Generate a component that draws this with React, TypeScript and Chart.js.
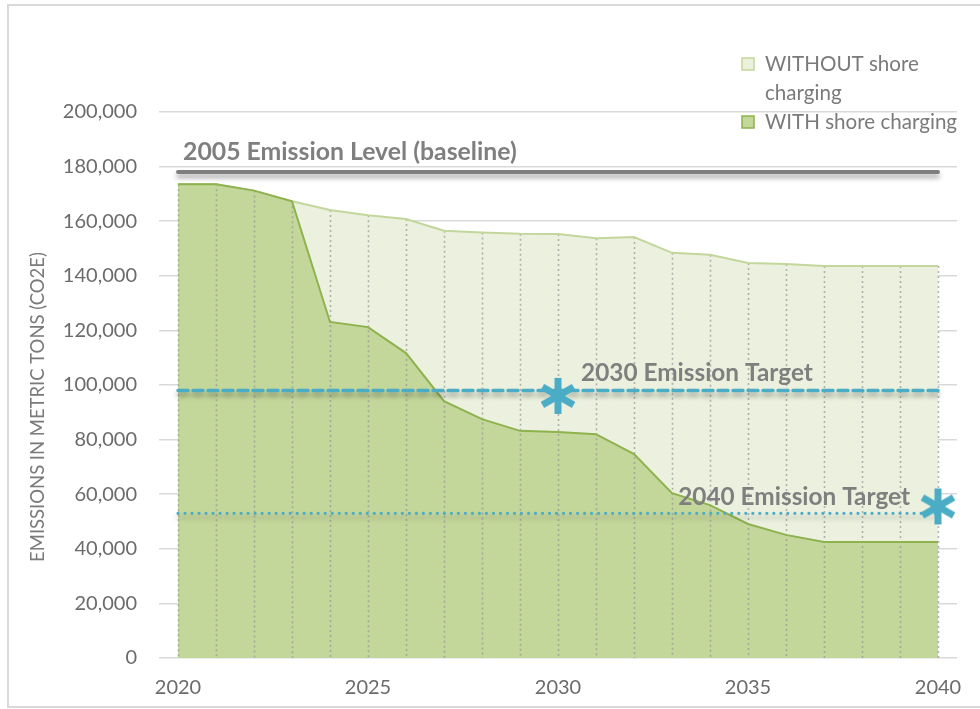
import React, { useEffect, useRef } from "react";
import { Chart, registerables } from "chart.js";
Chart.register(...registerables);

const years = ["2020","2021","2022","2023","2024","2025","2026","2027","2028","2029","2030","2031","2032","2033","2034","2035","2036","2037","2038","2039","2040"];
const xTickLabels = ["2020", "2025", "2030", "2035", "2040"];
const withoutShore = [173500,173500,171200,167300,164100,162200,160800,156500,155900,155400,155300,153800,154200,148400,147700,144700,144300,143600,143600,143600,143600];
const withShore = [173500,173500,171200,167300,123100,121200,111700,94100,87500,83200,82800,82000,74700,60400,56000,49100,45100,42500,42500,42500,42500];
const baseline2005 = 178000;
const target2030 = 98000;
const target2040 = 53000;
const marker2030 = 96000;
const marker2040 = 55500;
const yMax = 200000;
const yStep = 20000;

const FONT = "Lato, 'Open Sans', sans-serif";
const BLUE = "#4bacc6";

function makeAsterisk(size: number, color: string, lw: number) {
  const c = document.createElement("canvas");
  c.width = size; c.height = size;
  const g = c.getContext("2d")!;
  g.strokeStyle = color; g.lineWidth = lw; g.lineCap = "butt";
  const r = size / 2 - 1;
  [90, 30, -30].forEach((a) => {
    const rad = (a * Math.PI) / 180;
    g.beginPath();
    g.moveTo(size / 2 - Math.cos(rad) * r, size / 2 - Math.sin(rad) * r);
    g.lineTo(size / 2 + Math.cos(rad) * r, size / 2 + Math.sin(rad) * r);
    g.stroke();
  });
  return c;
}

function fitSize(ctx: CanvasRenderingContext2D, text: string, weight: string, target: number) {
  ctx.font = `${weight} 100px ${FONT}`;
  const w = ctx.measureText(text).width;
  return (100 * target) / w;
}

export default function App() {
  const ref = useRef<HTMLCanvasElement>(null);
  useEffect(() => {
    const star = makeAsterisk(38, BLUE, 7);
    const refLineIdx = [2, 3, 4];
    const plugin = {
      id: "custom",
      beforeDatasetsDraw(chart: any) {
        const { ctx, scales } = chart;
        const xs = scales.x, ys = scales.y;
        ctx.save();
        ctx.strokeStyle = "rgba(150,150,150,0.7)";
        ctx.lineWidth = 1.6;
        ctx.setLineDash([2, 3]);
        withoutShore.forEach((v, i) => {
          const x = Math.round(xs.getPixelForValue(i)) + 0.5;
          ctx.beginPath();
          ctx.moveTo(x, ys.getPixelForValue(v));
          ctx.lineTo(x, ys.getPixelForValue(0));
          ctx.stroke();
        });
        ctx.restore();
      },
      beforeDatasetDraw(chart: any, args: any) {
        if (refLineIdx.includes(args.index)) {
          const ctx = chart.ctx;
          ctx.save();
          ctx.shadowColor = "rgba(0,0,0,0.35)";
          ctx.shadowBlur = 5;
          ctx.shadowOffsetY = 4;
        }
      },
      afterDatasetDraw(chart: any, args: any) {
        if (refLineIdx.includes(args.index)) chart.ctx.restore();
      },
      afterDatasetsDraw(chart: any) {
        const { ctx, scales } = chart;
        const xs = scales.x, ys = scales.y;
        ctx.save();
        ctx.fillStyle = "#7f7f7f";
        ctx.textBaseline = "middle";
        let t = "2005 Emission Level (baseline)";
        let s = fitSize(ctx, t, "bold", 334);
        ctx.font = `bold ${s}px ${FONT}`;
        ctx.textAlign = "left";
        ctx.fillText(t, xs.getPixelForValue(0) + 5, ys.getPixelForValue(baseline2005) - 20);
        t = "2030 Emission Target";
        s = fitSize(ctx, t, "bold", 232);
        ctx.font = `bold ${s}px ${FONT}`;
        ctx.fillText(t, xs.getPixelForValue(10) + 23, ys.getPixelForValue(target2030) - 17);
        t = "2040 Emission Target";
        ctx.textAlign = "right";
        ctx.fillText(t, xs.getPixelForValue(20) - 28, ys.getPixelForValue(target2040) - 16);
        ctx.restore();
      },
      afterDraw(chart: any) {
        const ctx = chart.ctx;
        ctx.save();
        // legend
        ctx.lineWidth = 1.5;
        ctx.fillStyle = "#ebf1de"; ctx.strokeStyle = "#c3d69b";
        ctx.fillRect(742, 58, 12, 12); ctx.strokeRect(742, 58, 12, 12);
        ctx.fillStyle = "#c4d79b"; ctx.strokeStyle = "#8db24e";
        ctx.fillRect(742, 116, 12, 12); ctx.strokeRect(742, 116, 12, 12);
        const ls = fitSize(ctx, "WITHOUT shore", "normal", 154);
        ctx.font = `${ls}px ${FONT}`;
        ctx.fillStyle = "#7a7a7a";
        ctx.textBaseline = "middle";
        ctx.textAlign = "left";
        ctx.fillText("WITHOUT shore", 765, 64);
        ctx.fillText("charging", 765, 93);
        ctx.fillText("WITH shore charging", 765, 122);
        // y title
        const yt = "EMISSIONS IN METRIC TONS (CO2E)";
        const ts = fitSize(ctx, yt, "normal", 310);
        ctx.font = `${ts}px ${FONT}`;
        ctx.translate(38, 407);
        ctx.rotate(-Math.PI / 2);
        ctx.textAlign = "center";
        ctx.fillText(yt, 0, 0);
        ctx.restore();
      },
    };

    const chart = new Chart(ref.current!, {
      type: "line",
      data: {
        labels: years,
        datasets: [
          {
            label: "WITH shore charging",
            data: withShore,
            borderColor: "#8db24e",
            backgroundColor: "#c4d79b",
            borderWidth: 2,
            fill: "origin",
            pointRadius: 0,
            tension: 0,
            order: 2,
          },
          {
            label: "WITHOUT shore charging",
            data: withoutShore,
            borderColor: "#c3d69b",
            backgroundColor: "#ebf1de",
            borderWidth: 2,
            fill: 0,
            pointRadius: 0,
            tension: 0,
            order: 3,
          },
          {
            label: "2005 baseline",
            data: years.map(() => baseline2005),
            borderColor: "#7f7f7f",
            borderWidth: 4,
            borderCapStyle: "round",
            pointRadius: 0,
            fill: false,
            order: 1,
          },
          {
            label: "2030 target",
            data: years.map(() => target2030),
            borderColor: BLUE,
            borderWidth: 3.4,
            borderDash: [10, 5],
            borderCapStyle: "round",
            pointRadius: 0,
            fill: false,
            order: 1,
          },
          {
            label: "2040 target",
            data: years.map(() => target2040),
            borderColor: BLUE,
            borderWidth: 3.2,
            borderDash: [0.01, 7],
            borderCapStyle: "round",
            pointRadius: 0,
            fill: false,
            order: 1,
          },
          {
            label: "targets",
            data: years.map((y) => (y === "2030" ? marker2030 : y === "2040" ? marker2040 : null)),
            showLine: false,
            pointStyle: star as any,
            pointRadius: 12,
            borderWidth: 0,
            fill: false,
            order: 0,
          },
        ],
      } as any,
      options: {
        animation: false,
        responsive: true,
        maintainAspectRatio: false,
        layout: { padding: { top: 112, right: 23, bottom: 0, left: 0 } },
        plugins: {
          legend: { display: false },
          tooltip: { enabled: false },
          filler: { drawTime: "beforeDatasetsDraw" },
        } as any,
        scales: {
          x: {
            offset: true,
            grid: { display: false, drawTicks: false },
            border: { display: false },
            afterFit: (s: any) => { s.height = 51; },
            ticks: {
              autoSkip: false,
              maxRotation: 0,
              padding: 18,
              color: "#6b6b6b",
              font: { family: FONT, size: 20 },
              callback: (_v: any, i: number) => (xTickLabels.includes(years[i]) ? years[i] : ""),
            },
          },
          y: {
            min: 0,
            max: yMax,
            afterFit: (s: any) => { s.width = 159; },
            grid: { color: "#d9d9d9", lineWidth: 1.5, drawTicks: false },
            border: { display: false },
            ticks: {
              stepSize: yStep,
              padding: 22,
              color: "#6b6b6b",
              font: { family: FONT, size: 20 },
              callback: (v: any) => Number(v).toLocaleString("en-US"),
            },
          },
        },
      } as any,
      plugins: [plugin],
    });
    return () => chart.destroy();
  }, []);

  return (
    <div style={{ position: "absolute", left: 0, top: 0, width: 980, height: 709, overflow: "hidden", background: "#fff" }}>
      <div style={{ position: "absolute", left: 7, top: 4, width: 1000, height: 700, border: "2px solid #d9d9d9", borderRight: "none" }} />
      <div style={{ position: "absolute", left: 0, top: 0, width: 980, height: 709 }}>
        <canvas ref={ref} />
      </div>
    </div>
  );
}
